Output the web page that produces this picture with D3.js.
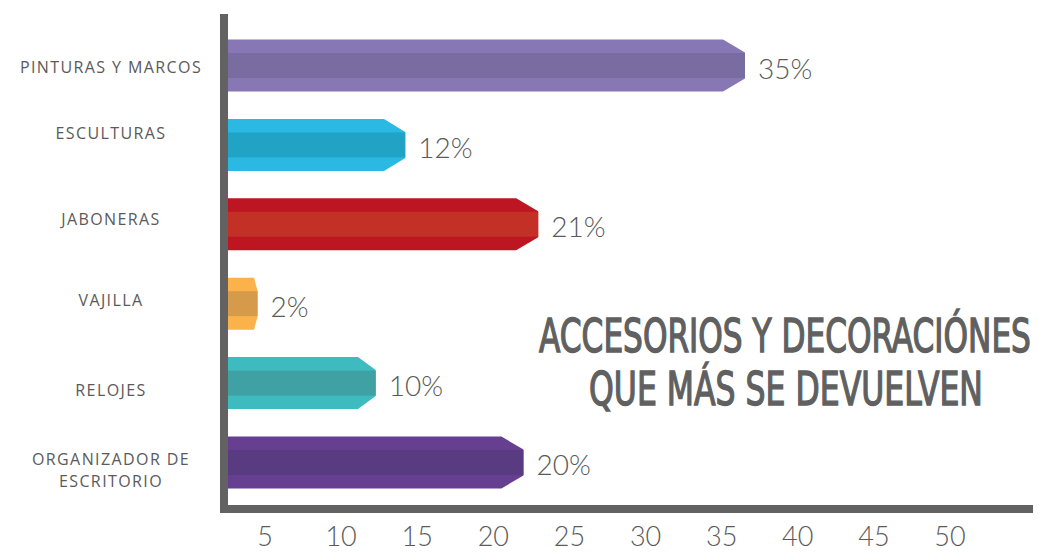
<!DOCTYPE html>
<html>
<head>
<meta charset="utf-8">
<script src="https://cdn.jsdelivr.net/npm/d3@7"></script>
<style>
  html, body { margin: 0; padding: 0; background: #ffffff; }
  svg { display: block; }
</style>
</head>
<body>
<svg id="chart" width="1039" height="552"></svg>
<script>
// Categories, top to bottom
const categories = [
  "PINTURAS Y MARCOS",
  "ESCULTURAS",
  "JABONERAS",
  "VAJILLA",
  "RELOJES",
  "ORGANIZADOR DE ESCRITORIO"
];
// Share of returns (%)
const values = [35, 12, 21, 2, 10, 20];
// Bar colours: outer strips and darker middle band
const outerColors = ["#8777b4", "#29b9e2", "#bd1622", "#fbb24b", "#3dbbbe", "#673f91"];
const bandColors  = ["#786ca0", "#21a3c6", "#c33025", "#d69a4b", "#3fa1a3", "#583b80"];
// Axis tick labels along the bottom
const tickLabels = ["5", "10", "15", "20", "25", "30", "35", "40", "45", "50"];
const titleLines = ["ACCESORIOS Y DECORACIÓNES", "QUE MÁS SE DEVUELVEN"];

const svg = d3.select("#chart");
const axisColor = "#626262";
const textColor = "#5a5a5a";

const axisX = 224;      // centre of the vertical axis stroke
const axisBottom = 509; // centre of the horizontal axis stroke
const barStart = 228;

const x = d3.scaleLinear().domain([0, 35]).range([barStart, 745]);
const y = d3.scaleBand().domain(categories).range([26, 502]).paddingInner(0.345).paddingOuter(0.17);
const tickScale = d3.scalePoint().domain(tickLabels).range([265, 950]);

// Bars with a chamfered right end and a darker middle band
function barPath(x0, x1, y0, h) {
  const w = x1 - x0;
  const c = Math.min(22, w * 0.12);
  const dy = h * 0.25;
  const p = d3.path();
  p.moveTo(x0, y0);
  p.lineTo(x1 - c, y0);
  p.lineTo(x1, y0 + dy);
  p.lineTo(x1, y0 + h - dy);
  p.lineTo(x1 - c, y0 + h);
  p.lineTo(x0, y0 + h);
  p.closePath();
  return p.toString();
}

const rows = categories.map((c, i) => ({ cat: c, v: values[i], i }));

const bars = svg.append("g").selectAll("g").data(rows).join("g");
bars.append("path")
  .attr("d", d => barPath(barStart, x(d.v), y(d.cat), y.bandwidth()))
  .attr("fill", d => outerColors[d.i]);
bars.append("rect")
  .attr("x", barStart)
  .attr("y", d => y(d.cat) + y.bandwidth() * 0.26)
  .attr("width", d => x(d.v) - barStart)
  .attr("height", d => y.bandwidth() * 0.48)
  .attr("fill", d => bandColors[d.i]);

// Value labels
svg.append("g").selectAll("text").data(rows).join("text")
  .attr("x", d => x(d.v) + 13)
  .attr("y", d => y(d.cat) + y.bandwidth() / 2 + 13)
  .attr("font-family", "Lato, 'Open Sans', sans-serif")
  .attr("font-weight", 300)
  .attr("font-size", 28)
  .attr("fill", textColor)
  .text(d => d.v + "%");

// Category labels (wrapped onto two lines where long)
const wrap = { "ORGANIZADOR DE ESCRITORIO": ["ORGANIZADOR DE", "ESCRITORIO"] };
const labelShift = [1, -12, -5, -4, 7, 8];
const catG = svg.append("g");
rows.forEach(d => {
  const lines = wrap[d.cat] || [d.cat];
  const cy = y(d.cat) + y.bandwidth() / 2 + labelShift[d.i];
  const t = catG.append("text")
    .attr("x", 111)
    .attr("text-anchor", "middle")
    .attr("font-family", "'Open Sans', 'DejaVu Sans', sans-serif")
    .attr("font-size", 16)
    .attr("letter-spacing", 1.4)
    .attr("fill", textColor);
  lines.forEach((ln, k) => {
    t.append("tspan")
      .attr("x", 111)
      .attr("y", cy + 6 + (k - (lines.length - 1) / 2) * 22)
      .text(ln);
  });
});

// Axes lines
svg.append("line")
  .attr("x1", axisX).attr("x2", axisX)
  .attr("y1", 14).attr("y2", axisBottom + 4)
  .attr("stroke", axisColor).attr("stroke-width", 8);
svg.append("line")
  .attr("x1", axisX - 4).attr("x2", 1033)
  .attr("y1", axisBottom).attr("y2", axisBottom)
  .attr("stroke", axisColor).attr("stroke-width", 8);

// Tick labels
svg.append("g").selectAll("text").data(tickLabels).join("text")
  .attr("x", d => tickScale(d))
  .attr("y", 546)
  .attr("text-anchor", "middle")
  .attr("font-family", "Lato, 'Open Sans', sans-serif")
  .attr("font-weight", 300)
  .attr("font-size", 27)
  .attr("fill", textColor)
  .text(d => d);

// Title: each line is squeezed horizontally to its target width
const titleSpec = [
  { text: titleLines[0], cx: 785, base: 352, width: 492 },
  { text: titleLines[1], cx: 786, base: 405, width: 394 }
];
const title = svg.append("g")
  .attr("font-family", "'Liberation Sans Narrow', 'DejaVu Sans Condensed', sans-serif")
  .attr("font-weight", 400)
  .attr("font-size", 46)
  .attr("fill", "#606060")
  .attr("stroke", "#606060")
  .attr("stroke-width", 1.2)
  .attr("text-anchor", "middle");
titleSpec.forEach(s => {
  const t = title.append("text").attr("x", 0).attr("y", 0).text(s.text);
  const w = t.node().getComputedTextLength();
  const sx = s.width / w;
  t.attr("transform", `translate(${s.cx},${s.base}) scale(${sx},1)`)
   .attr("stroke-width", 1.2 / Math.sqrt(sx));
});
</script>
</body>
</html>
